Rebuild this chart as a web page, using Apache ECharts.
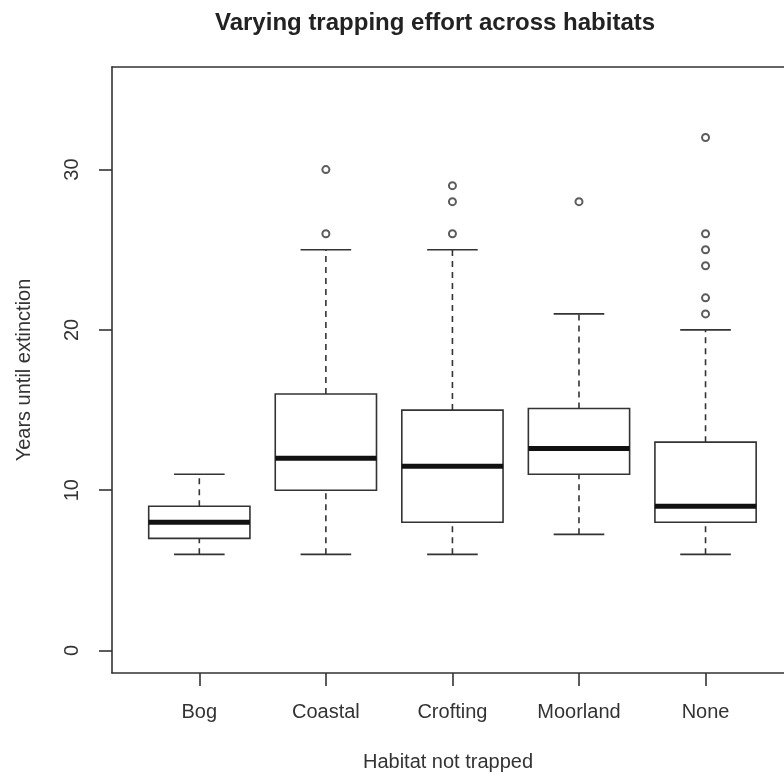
<!DOCTYPE html>
<html>
<head>
<meta charset="utf-8">
<script src="https://cdn.jsdelivr.net/npm/echarts@6/dist/echarts.min.js"></script>
<style>
  html, body { margin: 0; padding: 0; background: #ffffff; }
  #chart { width: 784px; height: 778px; }
</style>
</head>
<body>
<div id="chart"></div>
<script>
// Habitat groups along the x axis
const categories = ['Bog', 'Coastal', 'Crofting', 'Moorland', 'None'];

// Five-number summaries per habitat (years until extinction)
const whiskerLow    = [6, 6, 6, 7.25, 6];
const lowerQuartile = [7, 10, 8, 11, 8];
const medians       = [8, 12, 11.5, 12.6, 9];
const upperQuartile = [9, 16, 15, 15.1, 13];
const whiskerHigh   = [11, 25, 25, 21, 20];

// Points beyond the whiskers
const outliers = [
  [],
  [26, 30],
  [26, 28, 29],
  [28],
  [21, 22, 24, 25, 26, 32]
];

// Y axis tick values
const yTicks = [0, 10, 20, 30];
const xTicks = [1, 2, 3, 4, 5];

const FONT = '"Liberation Sans", Arial, sans-serif';
const INK = '#333333';

// Box rows: [position, low, q1, median, q3, high]
const boxData = categories.map((c, i) => [
  i + 1, whiskerLow[i], lowerQuartile[i], medians[i], upperQuartile[i], whiskerHigh[i]
]);

const outlierData = [];
outliers.forEach((vals, i) => vals.forEach(v => outlierData.push([i + 1, v])));

function renderBox(params, api) {
  const x = api.value(0);
  const low = api.coord([x, api.value(1)]);
  const q1 = api.coord([x, api.value(2)]);
  const med = api.coord([x, api.value(3)]);
  const q3 = api.coord([x, api.value(4)]);
  const high = api.coord([x, api.value(5)]);
  const boxW = api.size([0.8, 0])[0];
  const capW = api.size([0.4, 0])[0];
  const cx = low[0];
  const lineStyle = { stroke: INK, lineWidth: 1.6, fill: null };
  const dashStyle = { stroke: INK, lineWidth: 1.6, lineDash: [6, 5], fill: null };
  return {
    type: 'group',
    children: [
      { type: 'line', shape: { x1: cx, y1: q3[1], x2: cx, y2: high[1] }, style: dashStyle },
      { type: 'line', shape: { x1: cx, y1: low[1], x2: cx, y2: q1[1] }, style: dashStyle },
      { type: 'line', shape: { x1: cx - capW / 2, y1: high[1], x2: cx + capW / 2, y2: high[1] }, style: lineStyle },
      { type: 'line', shape: { x1: cx - capW / 2, y1: low[1], x2: cx + capW / 2, y2: low[1] }, style: lineStyle },
      { type: 'rect', shape: { x: cx - boxW / 2, y: q3[1], width: boxW, height: q1[1] - q3[1] },
        style: { stroke: INK, lineWidth: 1.6, fill: '#ffffff' } },
      { type: 'line', shape: { x1: cx - boxW / 2, y1: med[1], x2: cx + boxW / 2, y2: med[1] },
        style: { stroke: '#111111', lineWidth: 5 } }
    ]
  };
}

const chart = echarts.init(document.getElementById('chart'), null, { renderer: 'canvas' });

const axisLineStyle = { color: INK, width: 1.6 };

chart.setOption({
  backgroundColor: '#ffffff',
  animation: false,
  title: {
    text: 'Varying trapping effort across habitats',
    left: 215,
    top: 11,
    padding: 0,
    textStyle: { fontFamily: FONT, fontSize: 24, fontWeight: 'bold', color: '#222222' }
  },
  // plot region runs past the right edge of the canvas
  grid: {
    left: 112,
    top: 67,
    width: 672,
    height: 606,
    show: false
  },
  xAxis: [
    {
      type: 'value',
      min: 0.31,
      max: 5.62,
      position: 'bottom',
      name: 'Habitat not trapped',
      nameLocation: 'middle',
      nameGap: 79,
      nameTextStyle: { fontFamily: FONT, fontSize: 20, color: '#333333' },
      splitLine: { show: false },
      axisLine: { show: true, onZero: false, lineStyle: axisLineStyle },
      axisTick: { show: true, length: 13, customValues: xTicks, lineStyle: axisLineStyle },
      axisLabel: {
        customValues: xTicks,
        formatter: v => categories[Math.round(v) - 1],
        margin: 29,
        fontFamily: FONT, fontSize: 20, color: '#333333'
      }
    },
    {
      // top frame edge
      type: 'value',
      min: 0.31,
      max: 5.62,
      position: 'top',
      splitLine: { show: false },
      axisLine: { show: true, onZero: false, lineStyle: axisLineStyle },
      axisTick: { show: false },
      axisLabel: { show: false }
    }
  ],
  yAxis: {
    type: 'value',
    min: -1.4,
    max: 36.4,
    name: 'Years until extinction',
    nameLocation: 'middle',
    nameRotate: 90,
    nameGap: 78,
    nameTextStyle: { fontFamily: FONT, fontSize: 20, color: '#333333' },
    splitLine: { show: false },
    axisLine: { show: true, onZero: false, lineStyle: axisLineStyle },
    axisTick: { show: true, length: 13, customValues: yTicks, lineStyle: axisLineStyle },
    axisLabel: {
      customValues: yTicks,
      rotate: 90,
      margin: 30,
      fontFamily: FONT, fontSize: 20, color: '#333333'
    }
  },
  series: [
    {
      type: 'custom',
      renderItem: renderBox,
      data: boxData,
      xAxisIndex: 0,
      encode: { x: 0, y: [1, 2, 3, 4, 5] },
      z: 3
    },
    {
      type: 'scatter',
      data: outlierData,
      xAxisIndex: 0,
      symbol: 'emptyCircle',
      symbolSize: 7,
      itemStyle: { color: INK, borderColor: INK, borderWidth: 1.5 },
      z: 4
    }
  ]
});
</script>
</body>
</html>
